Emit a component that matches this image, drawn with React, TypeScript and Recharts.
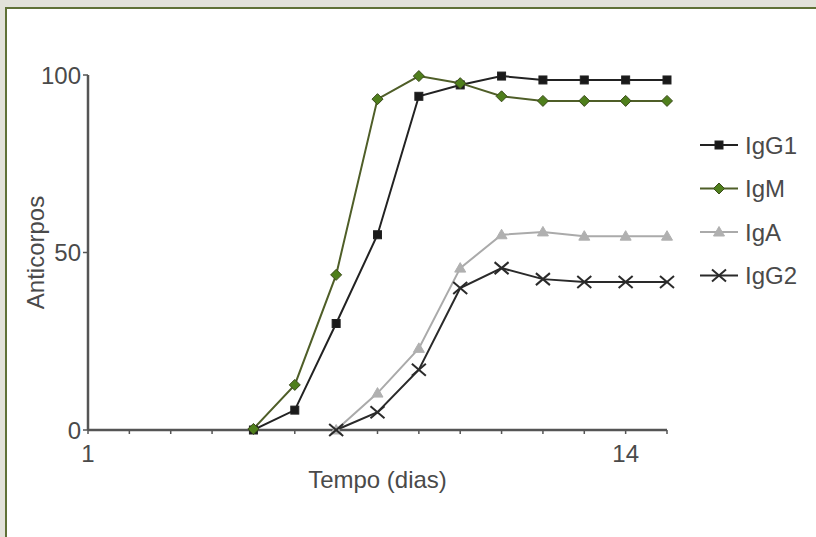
import React from 'react';
import { LineChart, Line, XAxis, YAxis, Legend } from 'recharts';

const days = [5, 6, 7, 8, 9, 10, 11, 12, 13, 14, 15];
const igG1 = [0, 5.6, 30, 55, 94, 97.2, 99.7, 98.6, 98.6, 98.6, 98.6];
const igM = [0.3, 12.7, 43.7, 93.2, 99.7, 97.7, 94, 92.7, 92.7, 92.7, 92.7];
const igA = [null, null, 0, 10.4, 23, 45.6, 55, 55.8, 54.6, 54.6, 54.6];
const igG2 = [null, null, 0, 5, 17, 40, 45.6, 42.5, 41.7, 41.7, 41.7];
const xTicks = [1, 2, 3, 4, 5, 6, 7, 8, 9, 10, 11, 12, 13, 14, 15];
const xLabelled = [1, 14];
const yTicks = [0, 50, 100];

const data = days.map((d, i) => ({ day: d, IgG1: igG1[i], IgM: igM[i], IgA: igA[i], IgG2: igG2[i] }));

const FONT = '"Liberation Sans", Arial, sans-serif';
const TXT = '#4a4a4a';
const FS = 24;

type Kind = 'square' | 'diamond' | 'triangle' | 'x';

const series: { key: string; color: string; kind: Kind; fill: string; width: number }[] = [
  { key: 'IgG1', color: '#222222', kind: 'square', fill: '#1a1a1a', width: 2 },
  { key: 'IgM', color: '#4f5e28', kind: 'diamond', fill: '#4f7f1c', width: 2 },
  { key: 'IgA', color: '#aaaaaa', kind: 'triangle', fill: '#b0b0b0', width: 2 },
  { key: 'IgG2', color: '#2a2a2a', kind: 'x', fill: '#2a2a2a', width: 2 },
];

function Marker({ cx, cy, kind, fill, stroke }: { cx: number; cy: number; kind: Kind; fill: string; stroke: string }) {
  if (kind === 'square') {
    return <rect x={cx - 4} y={cy - 4} width={8} height={8} fill={fill} stroke={stroke} strokeWidth={1} />;
  }
  if (kind === 'diamond') {
    return (
      <polygon
        points={`${cx},${cy - 5.5} ${cx + 5.5},${cy} ${cx},${cy + 5.5} ${cx - 5.5},${cy}`}
        fill={fill}
        stroke="#3a4a1a"
        strokeWidth={1}
      />
    );
  }
  if (kind === 'triangle') {
    return (
      <polygon
        points={`${cx},${cy - 5.5} ${cx + 5.5},${cy + 4} ${cx - 5.5},${cy + 4}`}
        fill={fill}
        stroke={fill}
        strokeWidth={1}
      />
    );
  }
  return (
    <g stroke={stroke} strokeWidth={2}>
      <line x1={cx - 7} y1={cy - 6} x2={cx + 7} y2={cy + 6} />
      <line x1={cx - 7} y1={cy + 6} x2={cx + 7} y2={cy - 6} />
    </g>
  );
}

function makeDot(kind: Kind, fill: string, stroke: string) {
  return (props: any) => {
    const { cx, cy, index, value } = props;
    if (cx == null || cy == null || value == null || Number.isNaN(cy)) {
      return <g key={`d-${index}`} />;
    }
    return (
      <g key={`d-${index}`}>
        <Marker cx={cx} cy={cy} kind={kind} fill={fill} stroke={stroke} />
      </g>
    );
  };
}

function LegendContent() {
  return (
    <svg width={120} height={180} style={{ overflow: 'visible' }}>
      {series.map((s, i) => {
        const y = 20 + i * 43.5;
        return (
          <g key={s.key}>
            <line x1={5} y1={y} x2={43} y2={y} stroke={s.color} strokeWidth={s.width} />
            <Marker cx={24} cy={y} kind={s.kind} fill={s.fill} stroke={s.color} />
            <text x={50} y={y} dy="0.36em" fontSize={FS} fontFamily={FONT} fill={TXT}>
              {s.key}
            </text>
          </g>
        );
      })}
    </svg>
  );
}

export default function App() {
  return (
    <div style={{ position: 'absolute', left: 0, top: 0, width: 816, height: 537, background: '#e2e2d9', overflow: 'hidden' }}>
      <div
        style={{
          position: 'absolute',
          left: 5,
          top: 7,
          right: 0,
          bottom: 0,
          background: '#ffffff',
          borderLeft: '2px solid #5f7136',
          borderTop: '2px solid #5f7136',
        }}
      />
      <div style={{ position: 'absolute', left: 0, top: 0 }}>
        <LineChart width={816} height={537} data={data} margin={{ top: 75, right: 28, bottom: 47, left: 28 }}>
          <XAxis
            dataKey="day"
            type="number"
            domain={[1, 15]}
            ticks={xTicks}
            interval={0}
            tickFormatter={(v: number) => (xLabelled.includes(v) ? String(v) : '')}
            height={60}
            tickSize={4}
            tickMargin={11}
            stroke="#555555"
            strokeWidth={2.5}
            tick={{ fill: TXT, fontSize: FS, fontFamily: FONT }}
            tickLine={{ stroke: '#555555', strokeWidth: 1.5 }}
            label={{ value: 'Tempo (dias)', position: 'insideBottom', offset: 2, fill: TXT, fontSize: FS, fontFamily: FONT }}
          />
          <YAxis
            type="number"
            domain={[0, 100]}
            ticks={yTicks}
            width={60}
            tickSize={5}
            tickMargin={2}
            stroke="#555555"
            strokeWidth={2.5}
            tick={{ fill: TXT, fontSize: FS, fontFamily: FONT }}
            tickLine={{ stroke: '#555555', strokeWidth: 1.5 }}
            label={{
              value: 'Anticorpos',
              angle: -90,
              position: 'insideLeft',
              offset: 7,
              style: { textAnchor: 'middle' },
              fill: TXT,
              fontSize: FS,
              fontFamily: FONT,
            }}
          />
          <Legend
            layout="vertical"
            verticalAlign="top"
            align="right"
            content={() => <LegendContent />}
            wrapperStyle={{ position: 'absolute', left: 695, top: 125, width: 121 }}
          />
          {series.map((s) => (
            <Line
              key={s.key}
              type="linear"
              dataKey={s.key}
              stroke={s.color}
              strokeWidth={s.width}
              dot={makeDot(s.kind, s.fill, s.color)}
              activeDot={false}
              isAnimationActive={false}
              connectNulls={false}
            />
          ))}
        </LineChart>
      </div>
    </div>
  );
}
